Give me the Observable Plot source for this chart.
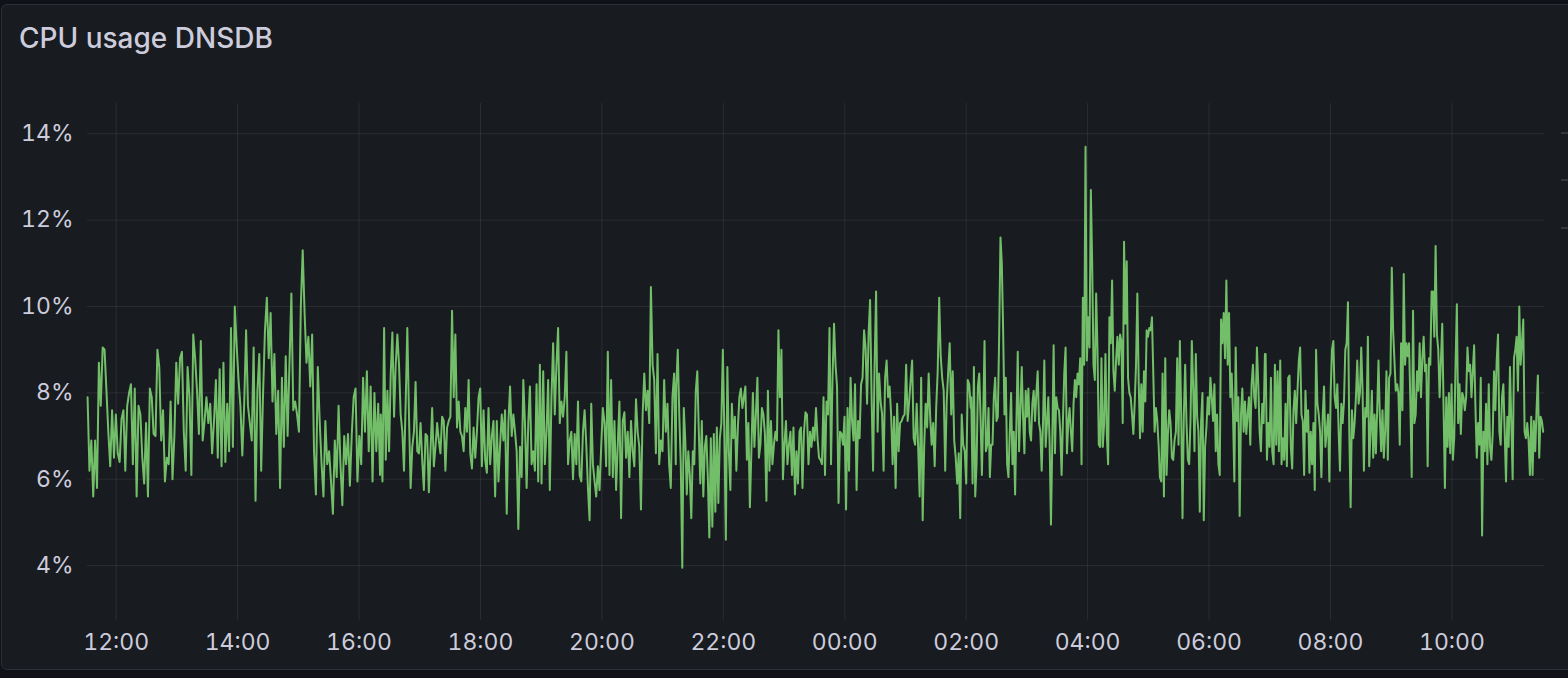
<!DOCTYPE html>
<html>
<head>
<meta charset="utf-8">
<script src="https://cdn.jsdelivr.net/npm/d3@7"></script>
<script src="https://cdn.jsdelivr.net/npm/@observablehq/plot@0.6"></script>
<style>
  html, body { margin: 0; padding: 0; background: #111217; width: 1568px; height: 678px; overflow: hidden; }
  #panel { position: absolute; left: 1px; top: 4px; width: 1600px; height: 666px; background: #181b1f;
           border: 1px solid #2c2f35; border-radius: 6px; box-sizing: border-box; }
  #title { position: absolute; left: 19px; top: 24px; font-family: Inter, "Noto Sans", sans-serif; font-size: 28px;
           line-height: 28px; font-weight: 500; color: #ccccdc; white-space: nowrap; }
  #chart { position: absolute; left: 0; top: 70px; }
  .dash { position: absolute; left: 1561px; width: 8px; height: 2px; background: #34363c; }
</style>
</head>
<body>
<div id="panel"></div>
<div id="title">CPU usage DNSDB</div>
<div class="dash" style="top:132px"></div>
<div class="dash" style="top:179px"></div>
<div class="dash" style="top:227px"></div>
<div id="chart"></div>
<script>
// Series: CPU usage (%), in five consecutive time segments
const segStart = ["2024-01-01T11:31:44", "2024-01-01T16:21:30", "2024-01-01T21:13:30", "2024-01-02T02:05:00", "2024-01-02T06:55:54"];
const segEnd   = ["2024-01-01T16:20:48", "2024-01-01T21:13:00", "2024-01-02T02:04:30", "2024-01-02T06:55:12", "2024-01-02T11:30:12"];

const seg1 = [7.9,6.2,6.9,5.6,6.9,5.8,8.7,7.7,9.05,9.0,8.05,7.1,6.3,7.6,6.5,7.5,6.6,6.4,7.4,7.6,6.2,7.7,8.0,8.2,6.35,8.1,5.6,7.7,7.5,6.5,5.9,7.3,5.6,8.1,7.9,7.05,7.0,9.0,8.6,6.9,7.6,5.95,6.5,6.35,7.8,6.0,7.0,8.7,7.75,8.8,8.95,7.1,6.2,8.6,7.9,6.1,9.35,8.8,8.05,7.05,9.2,6.9,7.35,7.9,7.3,7.75,6.6,7.35,8.3,6.5,8.55,6.3,8.7,6.4,7.75,6.65,9.5,6.75,10.0,9.1,8.3,7.7,6.55,7.75,9.45,7.7,7.3,6.9,9.05,5.5,8.05,8.9,6.2,8.0,9.45,10.2,8.8,9.85,7.8,8.9,7.05,8.05,5.8,8.35,6.75,8.85,7.0,8.7,10.3,7.6,7.8,7.5,7.1,10.0,11.3,9.85,8.7,9.3,8.15,9.35,6.65,5.65,8.6,7.35,6.35,5.6,7.35,6.35,6.65,5.95,5.2,6.9,6.05,7.7,6.35,5.4,7.0,6.35,7.05,5.85,7.05,7.9,8.1,5.95,7.0,6.35,8.35,7.1,8.5,6.65,8.15,5.95,8.0,6.65,7.75,6.1];
const seg2 = [7.5,5.95,9.5,6.45,8.05,6.65,8.45,9.4,7.45,8.65,9.35,8.65,7.5,7.1,6.2,7.75,9.5,7.5,5.8,6.75,7.1,8.25,6.65,6.6,7.3,6.45,5.75,7.05,7.0,5.7,6.65,7.65,6.3,6.75,7.3,6.9,6.6,7.45,7.35,6.2,7.2,7.35,7.45,9.9,7.9,9.35,7.2,7.8,7.1,7.0,6.65,7.65,7.1,8.3,6.6,6.25,7.2,6.5,7.1,7.9,8.1,6.3,7.6,6.45,6.15,7.65,6.35,7.0,7.35,5.6,7.35,5.95,6.8,7.5,6.9,7.6,5.2,7.3,8.15,7.0,7.5,7.1,6.65,4.85,6.75,6.05,8.3,7.3,5.8,7.3,8.15,6.35,6.65,6.2,8.2,5.95,8.65,5.9,8.5,6.35,7.1,8.3,5.75,7.9,9.15,7.5,8.65,9.5,7.3,7.8,7.45,7.9,8.95,6.35,6.9,7.1,6.0,7.05,6.35,7.8,6.1,5.95,7.1,7.6,6.8,5.8,5.05,7.75,6.35,5.95,5.6,6.3,5.75,6.75,7.65,7.3,6.3,8.95,6.1,8.3,6.05,7.35,5.75,6.8,7.8,5.1,7.35,7.55,6.5,7.1,6.05,7.35,6.65,6.3,7.85,7.1,6.75,5.3,7.5,8.45,7.6,8.05,7.3,10.45,8.65,8.3,6.6,8.9,6.35,6.9,6.65,8.3,7.1,7.75,6.35,5.8,7.9,8.45,6.35];
const seg3 = [8.15,9.0,7.5,6.35,3.95,7.65,6.9,5.65,6.65,6.1,5.1,6.65,6.35,8.05,8.5,7.1,5.9,7.35,5.6,6.75,7.0,6.05,4.65,6.95,4.9,7.05,5.25,7.2,5.45,6.95,7.3,9.0,7.1,4.6,8.6,6.65,5.75,7.75,6.95,7.45,6.2,7.2,7.9,8.1,7.65,7.9,8.15,6.45,7.3,5.35,6.65,8.0,6.75,7.5,8.35,6.5,6.8,7.65,7.5,7.05,5.5,8.05,6.2,7.35,6.35,6.8,7.1,6.9,9.45,7.9,9.0,6.0,6.8,7.35,6.35,6.8,7.1,6.1,7.2,5.65,6.65,5.9,7.1,7.2,5.8,7.1,7.55,7.5,6.35,7.1,6.75,7.2,6.9,7.65,6.95,6.5,6.45,6.35,7.9,6.1,7.8,7.5,9.5,6.35,8.35,9.6,8.65,8.15,5.45,7.1,7.05,6.8,7.45,5.3,7.65,6.2,8.35,7.35,6.9,8.2,5.75,7.35,6.95,8.2,8.35,9.45,9.05,7.75,9.35,10.15,7.9,6.2,8.65,10.35,7.1,8.45,7.8,7.5,6.2,8.35,8.75,7.9,8.15,7.5,6.35,7.45,5.8,7.75,6.65,7.3,7.35,7.45,7.5,8.65,7.35,7.8,8.3,8.75,6.95,6.8,7.75,6.75,5.6,8.35,5.05,6.75,7.75,7.2,8.45,7.45,6.8,7.3,6.3,7.65,8.5,10.2,8.85,8.35,8.05,6.2,7.8,8.5,9.15,7.5,8.5,6.9,6.5,5.9,6.6,5.1,7.5,6.8,6.65,5.9,8.3,8.2,7.65];
const seg4 = [7.9,5.9,8.6,5.6,6.35,8.15,8.45,7.45,6.1,7.45,9.2,6.65,6.8,7.65,6.05,6.8,6.8,7.9,8.35,7.35,7.45,9.3,11.6,11.0,9.45,7.5,8.35,6.35,6.05,7.1,8.0,6.35,7.1,5.65,7.35,8.95,6.65,7.6,8.6,7.45,6.6,8.05,7.45,8.1,7.1,6.9,7.75,8.05,7.35,8.0,8.5,7.3,7.1,6.2,7.3,8.75,6.75,7.3,7.9,6.8,4.95,6.9,9.1,6.6,7.9,7.65,7.6,7.1,6.1,7.35,8.45,9.05,6.6,7.3,7.65,7.1,6.65,7.75,8.3,7.9,8.45,8.2,8.8,6.35,10.2,8.65,13.7,8.75,9.75,9.05,12.7,11.0,8.65,8.3,10.3,9.0,6.8,6.75,8.8,6.75,7.3,8.9,7.05,6.35,9.75,9.15,10.6,8.5,8.05,8.75,9.3,8.65,9.35,9.2,7.3,11.5,9.6,11.05,8.35,8.0,7.9,7.5,7.05,7.75,8.65,10.3,8.3,6.95,8.2,7.1,8.5,7.8,9.45,9.3,9.5,9.45,9.75,8.45,7.1,7.65,7.35,6.8,6.05,5.95,8.45,5.6,8.8,6.1,7.05,7.6,7.3,6.5,6.45,6.9,7.1,8.8,6.8,9.2,7.5,5.1,7.5,8.65,7.3,6.45,6.35,7.35,9.2,8.15,6.65,8.9,7.45,7.1,5.25,7.35,8.0,5.05,6.75,7.2,7.9,7.5,8.35,7.9,7.35,8.2,6.65,7.5,6.35,6.1,9.7,9.15,9.85,8.8,10.6,8.65,9.85,7.9,8.45,7.5,5.95,9.05,7.35,7.9,5.15,7.5,8.1,7.1,7.8,7.05,7.5,7.9,6.8,8.2,8.65,7.9,7.65,9.05,8.2,7.1,6.65,7.75,7.3,8.9];
const seg5 = [8.9,6.45,7.3,6.75,8.35,6.65,6.35,8.65,6.8,8.5,6.65,8.75,6.35,6.95,6.45,7.75,6.3,8.35,8.4,6.75,6.25,7.6,8.05,7.3,8.05,8.75,9.05,7.5,7.35,6.1,8.05,7.1,7.6,6.15,7.1,6.35,7.3,5.75,9.0,7.75,7.5,7.1,6.05,7.45,8.15,6.75,7.1,7.5,5.95,8.05,9.0,9.2,7.9,7.65,8.2,7.1,6.2,7.75,7.3,7.8,9.0,9.15,10.1,7.1,5.35,7.6,6.95,7.3,7.9,8.75,7.75,8.0,9.05,8.05,6.2,7.65,7.45,9.3,6.3,7.1,8.05,6.5,7.5,6.6,7.6,8.75,7.45,6.65,7.6,6.5,7.1,8.5,6.45,8.35,8.45,10.9,9.45,8.75,8.05,8.2,8.0,6.8,9.15,7.6,10.75,8.65,9.15,8.85,9.15,7.75,6.05,9.9,7.3,7.5,8.5,8.05,9.15,7.9,8.8,9.3,8.5,8.65,6.3,8.8,8.65,10.35,10.35,9.3,11.4,9.35,9.0,7.9,8.75,9.6,7.65,5.8,7.9,6.75,8.0,6.6,8.2,6.45,6.95,8.65,10.05,7.3,8.2,7.05,8.0,7.9,7.6,7.9,9.05,8.5,8.65,7.9,8.5,9.1,7.65,6.5,7.3,6.8,8.35,4.7,7.1,6.65,7.75,6.35,8.2,6.75,6.45,7.05,8.5,7.6,8.75,9.35,7.1,6.8,7.9,8.2,7.1,5.95,7.45,6.75,8.6,7.3,6.0,8.8,9.0,9.3,8.05,10.0,8.65,9.15,9.7,7.1,6.95,7.3,6.9,6.1,7.45,6.1,7.35,6.65,7.6,8.4,6.5,7.45,7.35,7.1];

// Axis ticks
const xTicks = ["2024-01-01T12:00", "2024-01-01T14:00", "2024-01-01T16:00", "2024-01-01T18:00", "2024-01-01T20:00",
                "2024-01-01T22:00", "2024-01-02T00:00", "2024-01-02T02:00", "2024-01-02T04:00", "2024-01-02T06:00",
                "2024-01-02T08:00", "2024-01-02T10:00"];
const yTicks = [4, 6, 8, 10, 12, 14];
const xDomain = ["2024-01-01T11:31:40", "2024-01-02T11:31:30"];
const yDomain = [2.73, 14.7];

const segments = [seg1, seg2, seg3, seg4, seg5];
const data = [];
segments.forEach((vals, k) => {
  const s = new Date(segStart[k]).getTime(), e = new Date(segEnd[k]).getTime();
  vals.forEach((v, i) => data.push({t: new Date(s + (e - s) * i / (vals.length - 1)), v}));
});

const chart = Plot.plot({
  width: 1568,
  height: 608,
  marginLeft: 87,
  marginRight: 24,
  marginTop: 33,
  marginBottom: 58,
  style: {background: "transparent", color: "#ccccdc", fontFamily: "Inter, 'Noto Sans', sans-serif", fontSize: "23px"},
  x: {type: "time", domain: xDomain.map(d => new Date(d)), ticks: xTicks.map(d => new Date(d)),
      tickFormat: d3.timeFormat("%H:%M"), tickSize: 0, tickPadding: 13, grid: true, label: null},
  y: {domain: yDomain, ticks: yTicks, tickFormat: d => d + "%", tickSize: 0, tickPadding: 14, grid: true, label: null},
  marks: [
    Plot.line(data, {x: "t", y: "v", stroke: "#73bf69", strokeWidth: 2})
  ]
});
document.getElementById("chart").appendChild(chart);
</script>
</body>
</html>
